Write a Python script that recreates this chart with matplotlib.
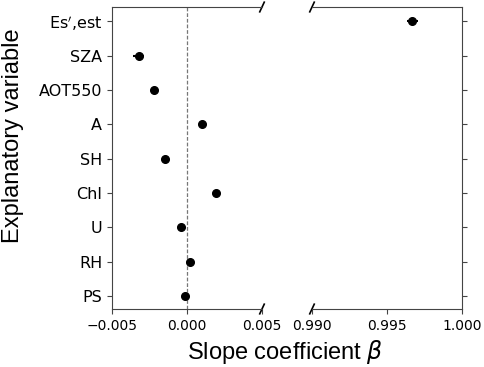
import matplotlib
matplotlib.use("Agg")
import matplotlib.pyplot as plt
import numpy as np

variables = ["Es$^{\\prime}$,est", "SZA", "AOT550", "A", "SH", "Chl", "U", "RH", "PS"]
slopes = [0.99668, -0.00323, -0.00218, 0.00100, -0.00149, 0.00191, -0.00038, 0.00018, -0.00016]
errors = [0.00036, 0.00037, 0.00005, 0.00005, 0.00005, 0.00005, 0.00005, 0.00005, 0.00005]
left_ticks = [-0.005, 0.000, 0.005]
right_ticks = [0.990, 0.995, 1.000]

W, H = 484, 367
fig = plt.figure(figsize=(W / 100, H / 100), dpi=100)
top, bot = 7, 309
ax1 = fig.add_axes([112 / W, 1 - bot / H, 150 / W, (bot - top) / H])
ax2 = fig.add_axes([312 / W, 1 - bot / H, 150 / W, (bot - top) / H], sharey=ax1)

ypos = np.arange(len(variables))
slopes = np.array(slopes)
errors = np.array(errors)
for ax in (ax1, ax2):
    ax.errorbar(slopes, ypos, xerr=errors, fmt='o', color='black', ms=5.5,
                elinewidth=1.5, capsize=0)
ax1.axvline(0, color='#777777', ls=(0, (3, 1.5)), lw=0.9)

ax1.set_xlim(-0.005, 0.005)
ax2.set_xlim(0.990, 1.000)
ax1.set_ylim(8.38, -0.42)
ax1.set_yticks(ypos)
ax1.set_yticklabels(variables, fontsize=11.5)
ax1.set_xticks(left_ticks)
ax1.set_xticklabels([f"{t:.3f}".replace("-", "\u2212") for t in left_ticks], fontsize=10)
ax2.set_xticks(right_ticks)
ax2.set_xticklabels([f"{t:.3f}" for t in right_ticks], fontsize=10)

ax1.spines['right'].set_visible(False)
ax2.spines['left'].set_visible(False)
ax2.yaxis.tick_right()
ax2.tick_params(labelright=False, labelleft=False)
for ax in (ax1, ax2):
    for s in ax.spines.values():
        s.set_color('#444444')
    ax.tick_params(colors='#444444', labelcolor='black')

dx, dy = 0.015, 0.016
kw = dict(color='black', clip_on=False, lw=1.2)
ax1.plot((1 - dx, 1 + dx), (-dy, dy), transform=ax1.transAxes, **kw)
ax1.plot((1 - dx, 1 + dx), (1 - dy, 1 + dy), transform=ax1.transAxes, **kw)
ax2.plot((-dx, dx), (-dy, dy), transform=ax2.transAxes, **kw)
ax2.plot((-dx, dx), (1 - dy, 1 + dy), transform=ax2.transAxes, **kw)

fig.text(285 / W, 1 - 352 / H, "Slope coefficient $\\beta$", ha='center', va='center',
         fontsize=17, family='Liberation Sans')
fig.text(13.5 / W, 1 - 136 / H, "Explanatory variable", ha='center', va='center',
         rotation=90, fontsize=17, family='Liberation Sans')

fig.savefig("out.png", dpi=100)
